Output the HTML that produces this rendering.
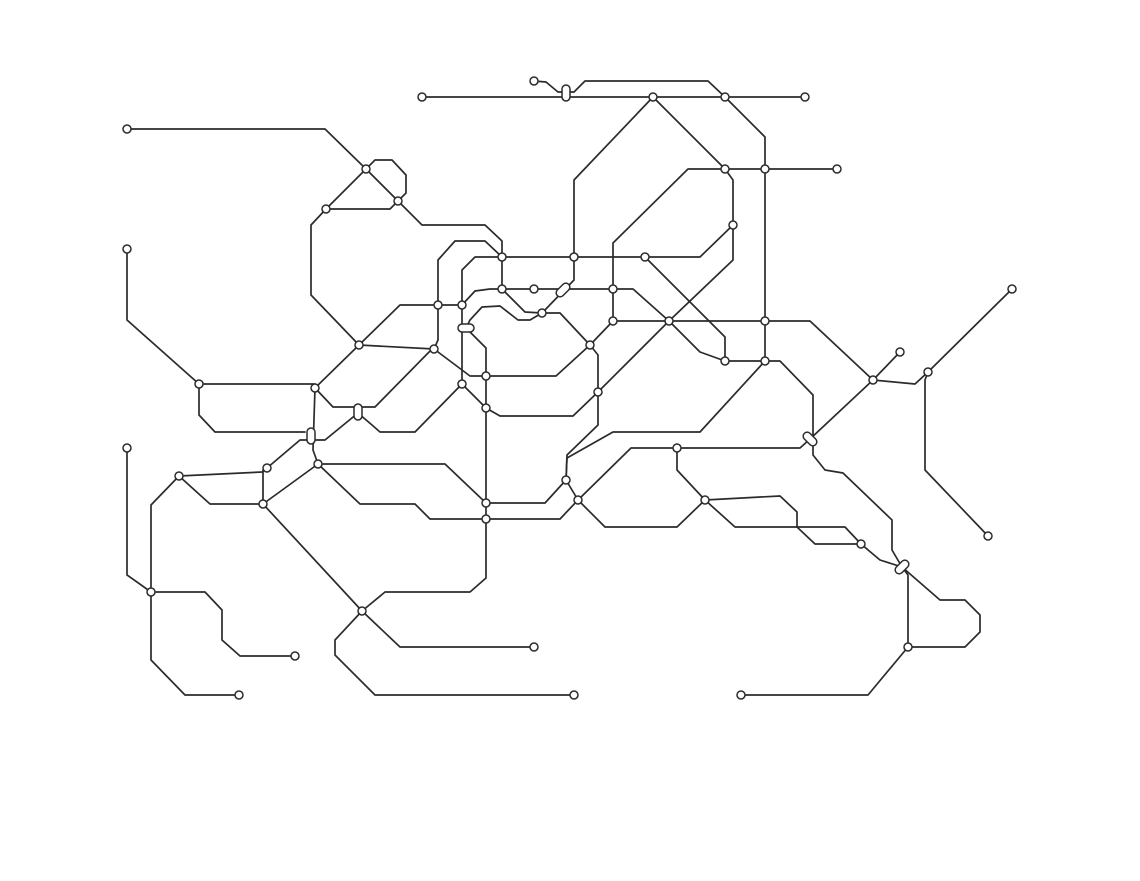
<!DOCTYPE html>
<html><head><meta charset="utf-8"><style>html,body{margin:0;padding:0;background:#fff}svg{display:block}</style></head>
<body>
<svg width="1140" height="881" viewBox="0 0 1140 881" xmlns="http://www.w3.org/2000/svg">
<g fill="none" stroke="#2b2b2b" stroke-width="1.7" stroke-linejoin="round" stroke-linecap="round">
<polyline points="422,97 805,97"/>
<polyline points="534,81 546,82 558,92 574,92 585,81 708,81 725,97 765,137 765,361 700,432 613,432 567,458 566,480 545,503 486,503 445,464 318,464"/>
<polyline points="127,129 325,129 366,169 398,201 422,225 485,225 502,241 502,289 525,312 542,313 560,313 590,345 598,355 598,425 567,455 566,480 578,500 605,527 677,527 705,500 780,496 797,512 797,527 815,544 861,544 880,560 902,567 940,600 965,600 980,615 980,632 965,647 908,647 868,695 741,695"/>
<polyline points="366,169 326,209 311,225 311,295 359,345 400,305 462,305 475,291 490,289 613,289 633,289 669,321 700,352 725,361 780,361 813,395 813,455 825,470 843,473 892,520 892,550 902,567 908,575 908,647"/>
<polyline points="366,169 375,160 392,160 406,175 406,193 398,201 390,209 326,209"/>
<polyline points="127,249 127,320 199,384 315,384"/>
<polyline points="199,384 199,415 215,432 305,432"/>
<polyline points="359,345 315,388 313,450 318,464"/>
<polyline points="359,345 434,349"/>
<polyline points="315,388 333,407 375,407 433,348"/>
<polyline points="267,468 300,440 325,440 358,413 372,425 380,432 415,432 462,384"/>
<polyline points="462,384 486,408 500,416 573,416 598,392"/>
<polyline points="462,305 462,384"/>
<polyline points="434,349 438,340 438,260 455,241 485,241 502,257"/>
<polyline points="434,349 470,376 556,376 590,345"/>
<polyline points="462,305 462,270 475,257 502,257 700,257 733,225 733,180 725,169"/>
<polyline points="466,328 486,348 486,578 470,592 385,592 362,611"/>
<polyline points="466,328 470,320 482,307 500,306 518,320 530,320 542,313"/>
<polyline points="645,257 725,337 725,361"/>
<polyline points="574,257 574,180 653,97 725,169 837,169"/>
<polyline points="725,169 688,169 613,243 613,321"/>
<polyline points="733,225 733,260 669,321 598,392"/>
<polyline points="574,257 574,280 542,313"/>
<polyline points="590,345 613,321 810,321 873,380 900,352"/>
<polyline points="873,380 915,384 928,372 1012,289"/>
<polyline points="928,372 925,380 925,470 988,536"/>
<polyline points="873,380 810,439 800,448 677,448 631,448 578,500 560,519 430,519 415,504 360,504 318,464 263,504"/>
<polyline points="677,448 677,470 705,500 735,527 845,527 861,544"/>
<polyline points="127,448 127,575 151,592 205,592 222,610 222,640 240,656 295,656"/>
<polyline points="151,592 151,660 185,695 239,695"/>
<polyline points="151,592 151,505 179,476 262,472 267,468"/>
<polyline points="179,476 210,504 263,504"/>
<polyline points="263,470 263,504 362,611 400,647 534,647"/>
<polyline points="362,611 335,640 335,655 375,695 574,695"/>
</g>
<g fill="#fff" stroke="#2b2b2b" stroke-width="1.5">
<rect x="562" y="85" width="8" height="16" rx="4"/>
<rect x="458" y="324" width="16" height="8" rx="4"/>
<rect x="354" y="404" width="8" height="16" rx="4"/>
<rect x="307" y="428" width="8" height="16" rx="4"/>
<rect x="555" y="286" width="16" height="8" rx="4" transform="rotate(-45 563 290)"/>
<rect x="802" y="435" width="16" height="8" rx="4" transform="rotate(45 810 439)"/>
<rect x="894" y="563" width="16" height="8" rx="4" transform="rotate(-45 902 567)"/>
</g>
<g fill="#fff" stroke="#2b2b2b" stroke-width="1.5">
<circle cx="127" cy="129" r="4"/><circle cx="366" cy="169" r="4"/><circle cx="398" cy="201" r="4"/><circle cx="326" cy="209" r="4"/><circle cx="127" cy="249" r="4"/><circle cx="422" cy="97" r="4"/><circle cx="534" cy="81" r="4"/><circle cx="653" cy="97" r="4"/><circle cx="725" cy="97" r="4"/><circle cx="805" cy="97" r="4"/><circle cx="725" cy="169" r="4"/><circle cx="765" cy="169" r="4"/><circle cx="837" cy="169" r="4"/><circle cx="733" cy="225" r="4"/><circle cx="502" cy="257" r="4"/><circle cx="574" cy="257" r="4"/><circle cx="645" cy="257" r="4"/><circle cx="502" cy="289" r="4"/><circle cx="534" cy="289" r="4"/><circle cx="613" cy="289" r="4"/><circle cx="542" cy="313" r="4"/><circle cx="438" cy="305" r="4"/><circle cx="462" cy="305" r="4"/><circle cx="359" cy="345" r="4"/><circle cx="434" cy="349" r="4"/><circle cx="613" cy="321" r="4"/><circle cx="669" cy="321" r="4"/><circle cx="765" cy="321" r="4"/><circle cx="590" cy="345" r="4"/><circle cx="725" cy="361" r="4"/><circle cx="765" cy="361" r="4"/><circle cx="199" cy="384" r="4"/><circle cx="315" cy="388" r="4"/><circle cx="462" cy="384" r="4"/><circle cx="486" cy="376" r="4"/><circle cx="486" cy="408" r="4"/><circle cx="598" cy="392" r="4"/><circle cx="873" cy="380" r="4"/><circle cx="900" cy="352" r="4"/><circle cx="928" cy="372" r="4"/><circle cx="1012" cy="289" r="4"/><circle cx="127" cy="448" r="4"/><circle cx="267" cy="468" r="4"/><circle cx="318" cy="464" r="4"/><circle cx="179" cy="476" r="4"/><circle cx="263" cy="504" r="4"/><circle cx="486" cy="503" r="4"/><circle cx="486" cy="519" r="4"/><circle cx="566" cy="480" r="4"/><circle cx="578" cy="500" r="4"/><circle cx="677" cy="448" r="4"/><circle cx="705" cy="500" r="4"/><circle cx="861" cy="544" r="4"/><circle cx="988" cy="536" r="4"/><circle cx="151" cy="592" r="4"/><circle cx="295" cy="656" r="4"/><circle cx="239" cy="695" r="4"/><circle cx="362" cy="611" r="4"/><circle cx="534" cy="647" r="4"/><circle cx="574" cy="695" r="4"/><circle cx="741" cy="695" r="4"/><circle cx="908" cy="647" r="4"/>
</g>
</svg>
</body></html>
